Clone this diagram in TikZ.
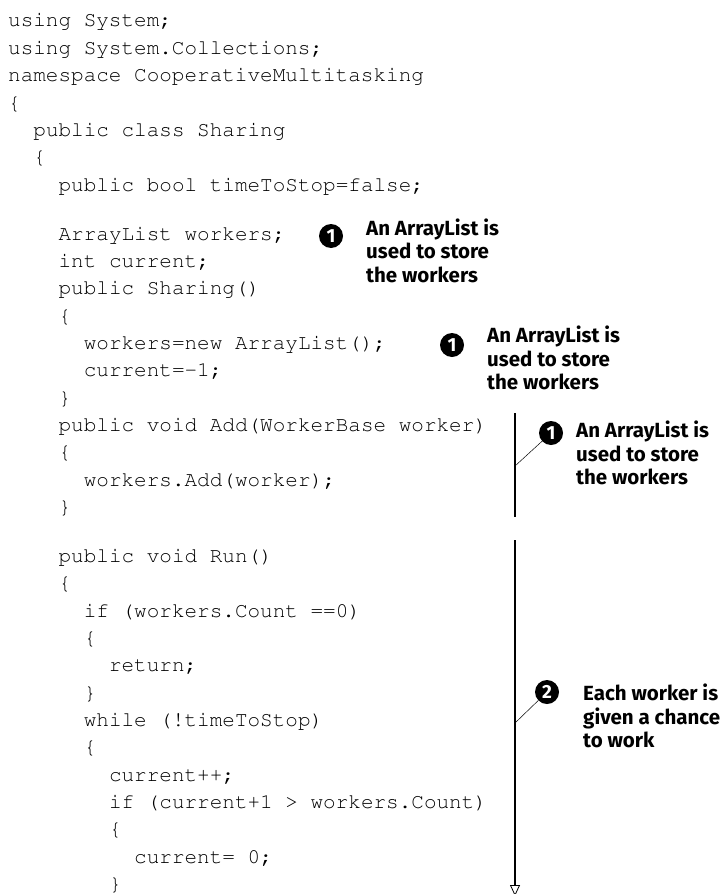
\documentclass[tikz,border=0pt]{standalone}
\usepackage{fontspec}
\setmonofont{Liberation Mono}
\newfontfamily\notefont{Fira Sans}
\newcommand{\codefont}{\fontencoding{T1}\fontfamily{pcr}\fontseries{m}\fontshape{n}\fontsize{21}{27}\selectfont}
\usetikzlibrary{arrows.meta,positioning}

\tikzset{
  code/.style={anchor=base west,inner sep=0pt,font=\codefont},
  note/.style={anchor=base west,inner sep=0pt,align=left,font=\notefont\bfseries\fontsize{20.5}{23.5}\selectfont},
  num/.style={circle,fill=black,text=white,inner sep=0pt,minimum size=24pt,font=\notefont\bfseries\fontsize{19}{19}\selectfont},
  bar/.style={black,line width=1.1pt},
  leader/.style={black,line width=0.5pt},
}

\begin{document}
\begin{tikzpicture}[x=1pt,y=-1pt]
  \useasboundingbox (0,0) rectangle (722,894);
  % code listing
  \node[code] (l1) at (8,27) {using System;};
  \node[code] (l2) at (8,54.35) {using System.Collections;};
  \node[code] (l3) at (8,81.7) {namespace CooperativeMultitasking};
  \node[code] (l4) at (8,109.05) {\{};
  \node[code] (l5) at (33.2,136.4) {public class Sharing};
  \node[code] (l6) at (33.2,163.75) {\{};
  \node[code] (l7) at (58.4,191.1) {public bool timeToStop=false;};
  \node[code] (l8) at (58.4,240) {ArrayList workers;};
  \node[code] (l9) at (58.4,267.3) {int current;};
  \node[code] (l10) at (58.4,294.65) {public Sharing()};
  \node[code] (l11) at (58.4,322) {\{};
  \node[code] (l12) at (83.6,349.35) {workers=new ArrayList();};
  \node[code] (l13) at (83.6,376.7) {current=-1;};
  \node[code] (l14) at (58.4,404.05) {\}};
  \node[code] (l15) at (58.4,431.4) {public void Add(WorkerBase worker)};
  \node[code] (l16) at (58.4,458.75) {\{};
  \node[code] (l17) at (83.6,486.1) {workers.Add(worker);};
  \node[code] (l18) at (58.4,513.45) {\}};
  \node[code] (l19) at (58.4,562.3) {public void Run()};
  \node[code] (l20) at (58.4,589.65) {\{};
  \node[code] (l21) at (83.6,617) {if (workers.Count ==0)};
  \node[code] (l22) at (83.6,644.35) {\{};
  \node[code] (l23) at (108.8,671.7) {return;};
  \node[code] (l24) at (83.6,699.05) {\}};
  \node[code] (l25) at (83.6,726.4) {while (!timeToStop)};
  \node[code] (l26) at (83.6,753.75) {\{};
  \node[code] (l27) at (108.8,781.1) {current++;};
  \node[code] (l28) at (108.8,808.45) {if (current+1 > workers.Count)};
  \node[code] (l29) at (108.8,835.8) {\{};
  \node[code] (l30) at (134,863.15) {current= 0;};
  \node[code] (l31) at (108.8,890.5) {\}};
  % callouts (text placed by the baseline of its last line)
  \node[num] (n1) at (331,236) {1};
  \node[note] (t1) at (366,282) {An ArrayList is\\used to store\\the workers};
  \node[num] (n2) at (452,345) {1};
  \node[note] (t2) at (487,389.5) {An ArrayList is\\used to store\\the workers};
  \node[num] (n3) at (551,433) {1};
  \node[note] (t3) at (576,484.5) {An ArrayList is\\used to store\\the workers};
  \node[num] (n4) at (547,692) {2};
  \node[note] (t4) at (583,747.5) {Each worker is\\given a chance\\to work};
  % brackets
  \coordinate (b1top) at (515,413);
  \coordinate (b1bot) at (515,517);
  \coordinate (b1mid) at (515,466);
  \draw[bar] (b1top) -- (b1bot);
  \draw[leader] (b1mid) -- (n3);
  \coordinate (b2top) at (515,540);
  \coordinate (b2bot) at (515,896);
  \coordinate (b2mid) at (515,723);
  \draw[bar,-{Triangle[open,width=10pt,length=11pt,line width=0.8pt]}] (b2top) -- (b2bot);
  \draw[leader] (b2mid) -- (n4);
\end{tikzpicture}
\end{document}
